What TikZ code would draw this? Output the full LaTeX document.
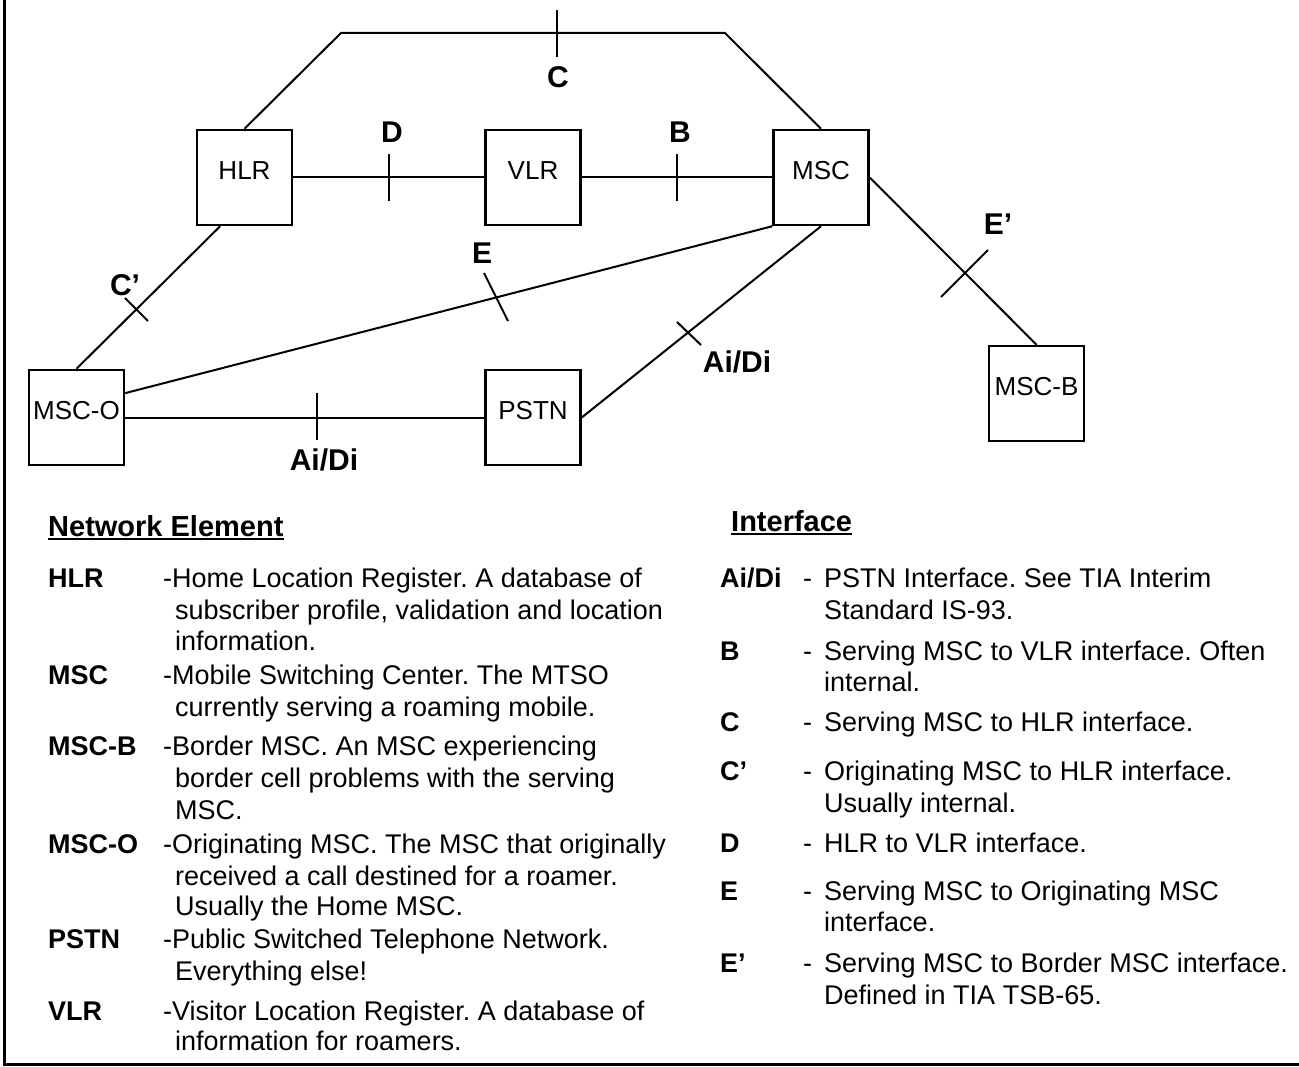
\documentclass[tikz,border=0pt]{standalone}
\usepackage{fontspec}
\setmainfont{Liberation Sans}
\frenchspacing
\usetikzlibrary{calc}
\tikzset{
  elem/.style={draw, line width=2.5pt, minimum width=95pt, minimum height=95pt, inner sep=0pt,
    text height=19pt, text depth=15pt, font=\fontsize{26}{30}\selectfont},
  link/.style={line width=2pt},
  iflabel/.style={font=\bfseries\fontsize{30}{34}\selectfont},
  legtext/.style={anchor=base west, inner sep=0pt, font=\fontsize{27}{31}\selectfont},
  legterm/.style={legtext, font=\bfseries\fontsize{27}{31}\selectfont},
  legtitle/.style={legtext, font=\bfseries\fontsize{29}{33}\selectfont}
}

\begin{document}
\begin{tikzpicture}[x=1pt,y=-1pt]
    \useasboundingbox (0,0) rectangle (1299,1067);
    \draw[line width=3pt] (4.8,0) -- (4.8,1064.5) -- (1299,1064.5);

    % network elements
    \node[elem] (HLR) at (244.5,177.5) {HLR};
    \node[elem] (VLR) at (533,177.5) {VLR};
    \node[elem] (MSC) at (821,177.5) {MSC};
    \node[elem] (MSCO) at (76.5,417.5) {MSC-O};
    \node[elem] (PSTN) at (533,417.5) {PSTN};
    \node[elem] (MSCB) at (1036.5,393.5) {MSC-B};

    % interfaces
    \draw[link] (HLR.north) -- (341,33) -- (725,33) -- (MSC.north);
    \draw[link] (HLR) -- (VLR);
    \draw[link] (VLR) -- (MSC);
    \draw[link] (MSCO.north) -- ($(HLR.south west)!0.25!(HLR.south east)$);
    \draw[link] ($(MSCO.north east)!0.25!(MSCO.south east)$) -- (MSC.south west);
    \draw[link] (MSCO) -- (PSTN);
    \draw[link] (PSTN.east) -- (MSC.south);
    \draw[link] (MSC.east) -- (MSCB.north);

    % ticks
    \draw[link] (557,10) -- (557,57);
    \draw[link] (389,154) -- (389,201);
    \draw[link] (677,154) -- (677,201);
    \draw[link] (125,298) -- (148,321);
    \draw[link] (484,273) -- (508,321);
    \draw[link] (317,393) -- (317,440);
    \draw[link] (677,322) -- (701,345);
    \draw[link] (941,297) -- (988,250);

    \node[iflabel] (lC) at (558,77) {C};
    \node[iflabel] (lD) at (392,132) {D};
    \node[iflabel] (lB) at (680,132) {B};
    \node[iflabel] (lCp) at (125,285) {C'};
    \node[iflabel] (lE) at (482,253) {E};
    \node[iflabel] (lAi) at (324,460) {Ai/Di};
    \node[iflabel] (lAiB) at (737,362) {Ai/Di};
    \node[iflabel] (lEp) at (998,224) {E'};

    % legend
    \node[legtitle] (neth) at (48,536) {Network Element};
    \draw[line width=2pt] ([yshift=-3pt]neth.base west) -- ([yshift=-3pt]neth.base east);
    \node[legtitle] (ifh) at (731,531) {Interface};
    \draw[line width=2pt] ([yshift=-3pt]ifh.base west) -- ([yshift=-3pt]ifh.base east);

    \foreach \yy/\term in {587/HLR, 684/MSC, 755/MSC-B, 853/MSC-O, 948/PSTN, 1020/VLR}
        \node[legterm] (ne-\yy) at (48,\yy) {\term};
    \foreach \yy/\txt in {587/{-Home Location Register. A database of},
        684/{-Mobile Switching Center. The MTSO},
        755/{-Border MSC. An MSC experiencing},
        853/{-Originating MSC. The MSC that originally},
        948/{-Public Switched Telephone Network.},
        1020/{-Visitor Location Register. A database of}}
        \node[legtext] (nd-\yy) at (163,\yy) {\txt};
    \foreach \yy/\txt in {619/{subscriber profile, validation and location},
        650/{information.}, 716/{currently serving a roaming mobile.},
        787/{border cell problems with the serving}, 819/{MSC.},
        885/{received a call destined for a roamer.}, 915/{Usually the Home MSC.},
        980/{Everything else!}, 1050/{information for roamers.}}
        \node[legtext] (nc-\yy) at (175,\yy) {\txt};

    \foreach \yy/\term in {587/{Ai/Di}, 660/B, 731/C, 780/{C'}, 852/D, 900/E, 972/{E'}}{
        \node[legterm] (if-\yy) at (720,\yy) {\term};
        \node[legtext] (ifd-\yy) at (803,\yy) {-};
    }
    \foreach \yy/\txt in {587/{PSTN Interface. See TIA Interim}, 619/{Standard IS-93.},
        660/{Serving MSC to VLR interface. Often}, 691/{internal.},
        731/{Serving MSC to HLR interface.},
        780/{Originating MSC to HLR interface.}, 812/{Usually internal.},
        852/{HLR to VLR interface.},
        900/{Serving MSC to Originating MSC}, 931/{interface.},
        972/{Serving MSC to Border MSC interface.}, 1004/{Defined in TIA TSB-65.}}
        \node[legtext] (it-\yy) at (824,\yy) {\txt};
\end{tikzpicture}
\end{document}
